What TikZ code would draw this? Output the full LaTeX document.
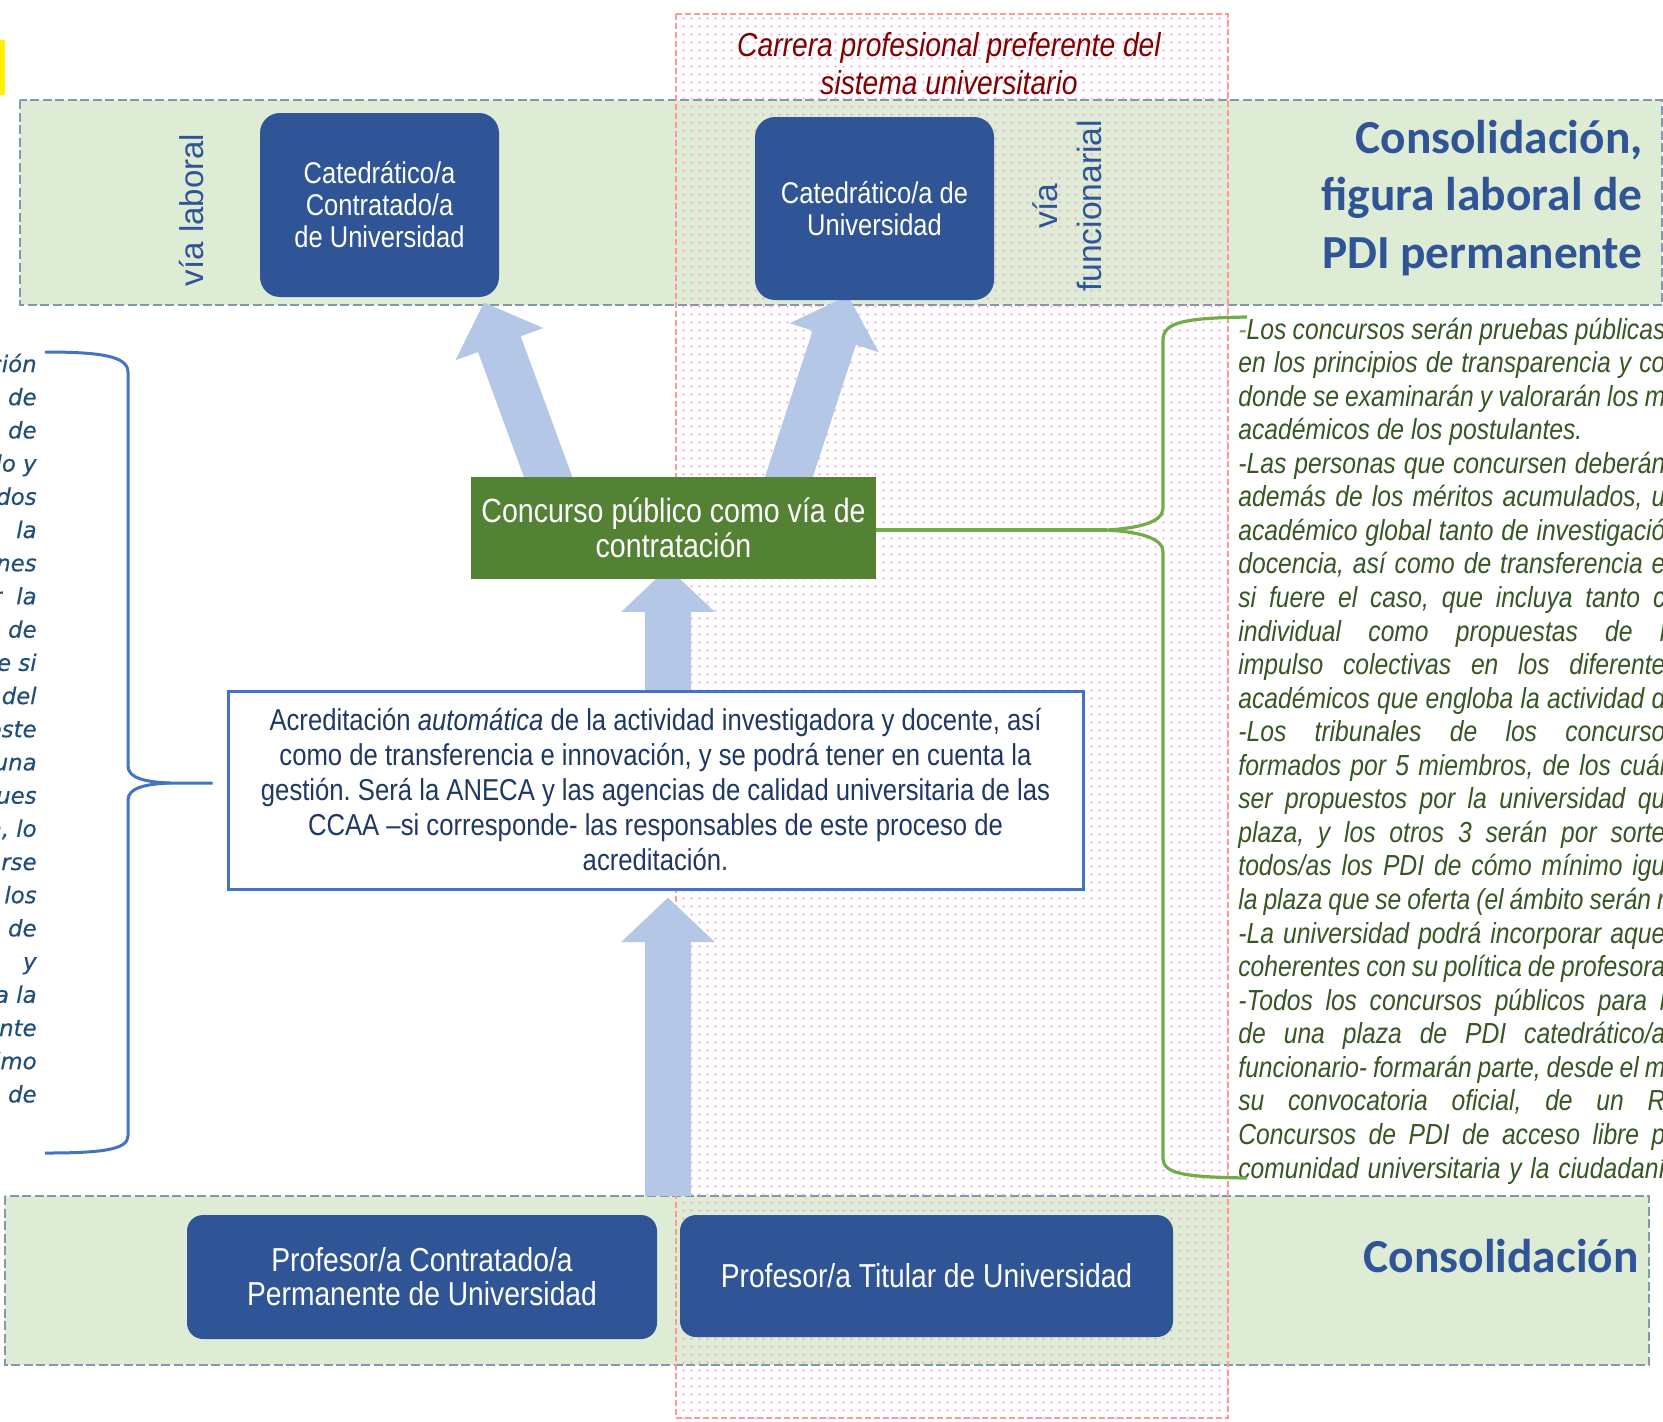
\documentclass[tikz,border=0pt]{standalone}
\usepackage{fontspec}
\setmainfont{Liberation Sans}
\newfontfamily\narrow[FakeStretch=0.85]{Liberation Sans}
\newfontfamily\calib{Carlito}
\newfontfamily\verd[FakeBold=0.4]{DejaVu Sans}
\usetikzlibrary{arrows.meta,calc,patterns.meta}
\frenchspacing

\definecolor{bandgreen}{HTML}{DEEBD5}
\definecolor{bandgray}{HTML}{8497B0}
\definecolor{boxblue}{HTML}{2F5597}
\definecolor{arrowblue}{HTML}{B4C7E7}
\definecolor{concgreen}{HTML}{548235}
\definecolor{bracegreen}{HTML}{70AD47}
\definecolor{braceblue}{HTML}{4472C4}
\definecolor{navytext}{HTML}{1F3864}
\definecolor{greentext}{HTML}{375623}
\definecolor{leftblue}{HTML}{1F4E79}
\definecolor{darkredtext}{HTML}{800000}
\definecolor{pinkdot}{HTML}{FF8FD0}
\definecolor{pinkline}{HTML}{FF9999}

\tikzdeclarepattern{
  name=pinkdots,
  type=uncolored,
  bottom left={(0pt,0pt)},
  top right={(4pt,4pt)},
  tile size={(4pt,4pt)},
  code={\fill (1.5pt,1.5pt) rectangle (2.5pt,2.5pt);}
}

\pgfdeclarelayer{bands}
\pgfdeclarelayer{pinklayer}
\pgfdeclarelayer{arrowlayer}
\pgfsetlayers{bands,pinklayer,arrowlayer,main}

\newcommand\jline[1]{\makebox[\linewidth][s]{#1}}

\tikzset{
  band/.style={draw=bandgray, fill=bandgreen, line width=1pt, dash pattern=on 4.5pt off 1.75pt},
  pinkzone/.style={draw=pinkline, line width=0.75pt, dash pattern=on 3pt off 1.5pt},
  topbox/.style={fill=boxblue, text=white, rounded corners=10pt, inner sep=0pt, align=center,
    font=\narrow\fontsize{15}{16}\selectfont},
  botbox/.style={fill=boxblue, text=white, rounded corners=8pt, inner sep=0pt, align=center,
    font=\narrow\fontsize{16.6}{17}\selectfont},
  concbox/.style={fill=concgreen, text=white, inner sep=0pt, align=center,
    font=\narrow\fontsize{16.8}{17.5}\selectfont},
  acredbox/.style={draw=braceblue, line width=1.5pt, fill=white, text=navytext, inner sep=0pt, align=center,
    font=\narrow\fontsize{15.1}{17.5}\selectfont},
  bigarrow/.style={draw=arrowblue, line width=22.75pt, -{Triangle[length=22.25pt,width=45.5pt]}},
  bluebrace/.style={draw=braceblue, line width=1.5pt},
  greenbrace/.style={draw=bracegreen, line width=1.6pt},
  vialabel/.style={rotate=90, text=boxblue, inner sep=0pt, align=center},
  consol/.style={text=boxblue, inner sep=0pt, align=right,
    font=\calib\bfseries\fontsize{23.7}{28.75}\selectfont}
}

\begin{document}
\begin{tikzpicture}[x=0.5pt,y=-0.5pt]
\useasboundingbox (0,0) rectangle (1663,1421);

% bands
\begin{pgfonlayer}{bands}
  \fill[white] (0,0) rectangle (1663,1421);
  \draw[band] (20,100) rectangle (1662,305);
  \draw[band] (5,1196) rectangle (1649,1365);
  \fill[yellow] (0,40) rectangle (5,95);
\end{pgfonlayer}

% pink zone
\begin{pgfonlayer}{pinklayer}
  \fill[pattern=pinkdots, pattern color=pinkdot] (676,14) rectangle (1228,1418);
  \draw[pinkzone] (676,14) rectangle (1228,1418);
\end{pgfonlayer}

% title
\node[text=darkredtext, align=center, inner sep=0pt,
      font=\narrow\itshape\fontsize{16.6}{19}\selectfont] (title) at (949,64)
  {Carrera profesional preferente del\\sistema universitario};

% top row
\node[topbox, minimum width=119.5pt, minimum height=92pt] (cc) at (379.5,205)
  {Catedrático/a\\Contratado/a\\de Universidad};
\node[topbox, minimum width=119.5pt, minimum height=91.5pt] (cu) at (874.5,208.5)
  {Catedrático/a de\\Universidad};
\node[vialabel, font=\fontsize{16.5}{20}\selectfont] (vlab) at (192,210) {vía laboral};
\node[vialabel, font=\fontsize{16.8}{22}\selectfont] (vfun) at (1067,206) {vía\\funcionarial};
\node[consol, anchor=east] (consoltop) at (1643,198)
  {Consolidación,\\figura laboral de\\PDI permanente};

% middle
\node[concbox, minimum width=202.5pt, minimum height=51pt] (conc) at (673.5,528)
  {Concurso público como vía de\\contratación};
\node[acredbox, minimum width=427.5pt, minimum height=99pt] (acred) at (655.5,790)
  {Acreditación \textit{automática} de la actividad investigadora y docente, así\\
   como de transferencia e innovación, y se podrá tener en cuenta la\\
   gestión. Será la ANECA y las agencias de calidad universitaria de las\\
   CCAA –si corresponde- las responsables de este proceso de\\
   acreditación.};

% bottom row
\node[botbox, minimum width=235pt, minimum height=62pt] (pc) at (422,1277)
  {Profesor/a Contratado/a\\Permanente de Universidad};
\node[botbox, minimum width=246.5pt, minimum height=61pt] (pt) at (926.5,1276)
  {Profesor/a Titular de Universidad};
\node[consol, anchor=base east] (consolbot) at (1639,1272) {Consolidación};

% left text (cut at the picture's edge)
\node[anchor=base east, inner sep=0pt, text=leftblue,
      font=\verd\itshape\fontsize{11.4}{16.6}\selectfont] (ltext) at (37,372)
  {\parbox[t]{70pt}{\raggedleft
   ción\\de\\de\\lo y\\dos\\la\\nes\\r\ \ la\\de\\e si\\del\\este\\una\\ues\\n, lo\\rse\\los\\de\\y\\a la\\ente\\imo\\de}};

% right text (cut at the picture's edge)
\node[anchor=base west, inner sep=0pt, text=greentext,
      font=\narrow\itshape\fontsize{14.5}{16.78}\selectfont] (rtext) at (1238,339)
  {\parbox[t]{213.5pt}{%
   \jline{{\color{bracegreen}-}Los concursos serán pruebas públicas}\\
   \jline{en los principios de transparencia y co}\\
   \jline{donde se examinarán y valorarán los m}\\
   académicos de los postulantes.\\
   \jline{-Las personas que concursen deberán}\\
   \jline{además de los méritos acumulados, u}\\
   \jline{académico global tanto de investigació}\\
   \jline{docencia, así como de transferencia e}\\
   \jline{si fuere el caso, que incluya tanto c}\\
   \jline{individual como propuestas de l}\\
   \jline{impulso colectivas en los diferente}\\
   \jline{académicos que engloba la actividad d}\\
   \jline{-Los tribunales de los concurso}\\
   \jline{formados por 5 miembros, de los cuál}\\
   \jline{ser propuestos por la universidad qu}\\
   \jline{plaza, y los otros 3 serán por sorte}\\
   \jline{todos/as los PDI de cómo mínimo igu}\\
   \jline{la plaza que se oferta (el ámbito serán r}\\
   \jline{-La universidad podrá incorporar aque}\\
   \jline{coherentes con su política de profesora}\\
   \jline{-Todos los concursos públicos para l}\\
   \jline{de una plaza de PDI catedrático/a}\\
   \jline{funcionario- formarán parte, desde el m}\\
   \jline{su convocatoria oficial, de un R}\\
   \jline{Concursos de PDI de acceso libre p}\\
   \jline{comunidad universitaria y la ciudadaní}}};

% coordinates
\coordinate (ltip) at ($(acred.west)+(-14,-7)$);
\coordinate (rtip) at (1107,530);
\coordinate (lowstart) at (668,1196);

% arrows
\begin{pgfonlayer}{arrowlayer}
  \draw[bigarrow] ($(conc.north)+(-120.3,14.1)$) -- ($(cc.south)+(104.5,5)$);
  \draw[bigarrow] ($(conc.north)+(110.9,14.3)$) -- ($(cu.south)+(-26.5,-5)$);
  \draw[bigarrow] ($(acred.north)+(12.5,2)$) -- ($(conc.south)+(-5.5,-12)$);
  \draw[bigarrow] (lowstart) -- ($(acred.south)+(12.5,7)$);
\end{pgfonlayer}

% left blue brace
\draw[bluebrace] (ltip) -- (170,783) .. controls (145,782) and (128,778) .. (128,766)
  -- (128,372) .. controls (128,356) and (100,352) .. (45,352);
\draw[bluebrace] (170,783) .. controls (145,784) and (128,788) .. (128,800)
  -- (128,1136) .. controls (128,1150) and (100,1153) .. (45,1153);

% right green brace
\draw[greenbrace] (conc.east |- rtip) -- (rtip);
\draw[greenbrace] (1247,317) .. controls (1185,318) and (1163,322) .. (1163,340)
  -- (1163,508) .. controls (1163,522) and (1140,528) .. (rtip)
  .. controls (1140,532) and (1163,538) .. (1163,552)
  -- (1163,1158) .. controls (1163,1174) and (1185,1177) .. (1247,1178);
\end{tikzpicture}
\end{document}
